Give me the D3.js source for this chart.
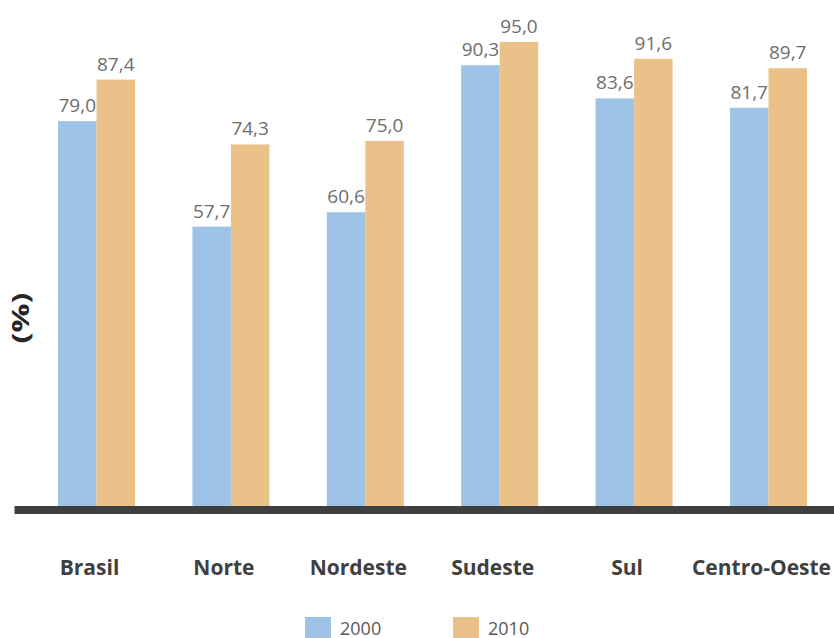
<!DOCTYPE html>
<html>
<head>
<meta charset="utf-8">
<script src="https://cdn.jsdelivr.net/npm/d3@7"></script>
<style>
  html, body { margin: 0; padding: 0; background: #fff; }
  svg { display: block; }
</style>
</head>
<body>
<svg id="chart" width="834" height="638"></svg>
<script>
// Regiões e taxas (%) para 2000 e 2010
const regions = ["Brasil", "Norte", "Nordeste", "Sudeste", "Sul", "Centro-Oeste"];
const years = ["2000", "2010"];
const values2000 = [79.0, 57.7, 60.6, 90.3, 83.6, 81.7];
const values2010 = [87.4, 74.3, 75.0, 95.0, 91.6, 89.7];
const yearColors = ["#9dc3e6", "#ebc18a"];
const axisTitle = "(%)";

const seriesValues = [values2000, values2010];
const rows = regions.flatMap((r, i) =>
  years.map((yr, k) => ({ region: r, year: yr, value: seriesValues[k][i] }))
);

const svg = d3.select("#chart");
const W = 834, H = 638;

const x = d3.scaleBand()
  .domain(regions)
  .range([17.7, 847.3])
  .paddingInner(0.427)
  .paddingOuter(0.3);

const xs = d3.scaleBand()
  .domain(years)
  .range([0, x.bandwidth()]);

const y = d3.scaleLinear()
  .domain([0, 100])
  .range([512.2, 17.2]);

const color = d3.scaleOrdinal().domain(years).range(yearColors);

const fmt = v => d3.format(".1f")(v).replace(".", ",");

// Barras
svg.append("g")
  .selectAll("rect")
  .data(rows)
  .join("rect")
  .attr("x", d => x(d.region) + xs(d.year))
  .attr("y", d => y(d.value))
  .attr("width", xs.bandwidth())
  .attr("height", d => y(0) - y(d.value))
  .attr("fill", d => color(d.year));

// Rótulos de valor
svg.append("g")
  .selectAll("text")
  .data(rows)
  .join("text")
  .attr("x", d => x(d.region) + xs(d.year) + xs.bandwidth() / 2)
  .attr("y", d => y(d.value) - 9)
  .attr("text-anchor", "middle")
  .attr("font-family", "'Open Sans', sans-serif")
  .attr("font-size", 19)
  .attr("fill", "#6e6e6e")
  .text(d => fmt(d.value));

// Linha de base
const axisG = svg.append("g").attr("transform", "translate(0,510)");
axisG.call(d3.axisBottom(x).tickSize(0).tickFormat(""));
axisG.select(".domain").remove();
axisG.append("line")
  .attr("x1", 14.5).attr("x2", W)
  .attr("y1", 0).attr("y2", 0)
  .attr("stroke", "#3f3f3f")
  .attr("stroke-width", 8);

// Nomes das regiões
axisG.selectAll(".tick text").remove();
axisG.selectAll(".tick")
  .append("text")
  .attr("x", -7)
  .attr("y", 65)
  .attr("text-anchor", "middle")
  .attr("font-family", "'Open Sans', sans-serif")
  .attr("font-weight", "bold")
  .attr("font-size", 21)
  .attr("fill", "#404040")
  .text(d => d);

// Título do eixo (vertical, levemente alongado)
svg.append("text")
  .attr("transform", "translate(29,318) rotate(-90) scale(1.4,1)")
  .attr("text-anchor", "middle")
  .attr("font-family", "'Open Sans', sans-serif")
  .attr("font-weight", "bold")
  .attr("font-size", 23)
  .attr("fill", "#262626")
  .text(axisTitle);

// Legenda
const legendX = [305, 453];
const legend = svg.append("g")
  .selectAll("g")
  .data(years)
  .join("g")
  .attr("transform", (d, i) => `translate(${legendX[i]},617)`);
legend.append("rect")
  .attr("width", 26).attr("height", 26)
  .attr("fill", d => color(d));
legend.append("text")
  .attr("x", 35)
  .attr("y", 17.5)
  .attr("font-family", "'Open Sans', sans-serif")
  .attr("font-size", 18)
  .attr("fill", "#595959")
  .text(d => d);
</script>
</body>
</html>
